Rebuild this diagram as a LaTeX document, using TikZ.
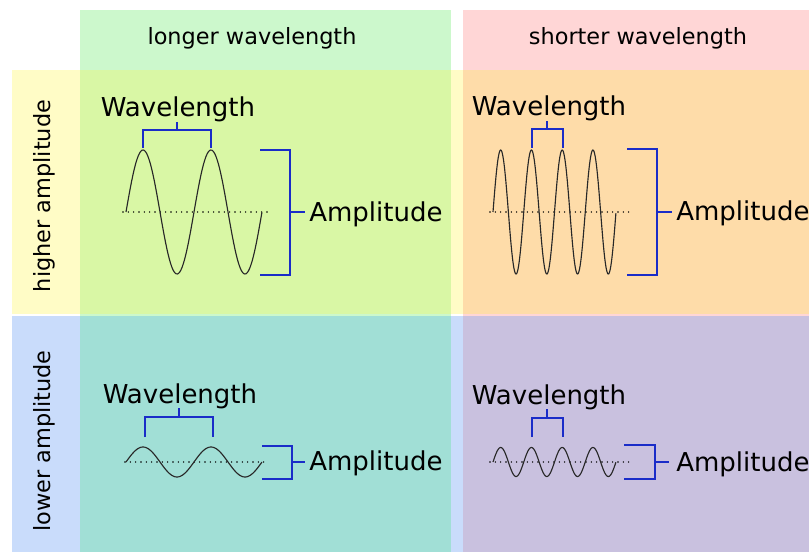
\documentclass[tikz,border=0pt]{standalone}
\usepackage{fontspec}
\setmainfont{DejaVu Sans}
\definecolor{hdrgreen}{RGB}{204,248,204}
\definecolor{hdrpink}{RGB}{255,214,214}
\definecolor{rowyellow}{RGB}{255,252,198}
\definecolor{rowblue}{RGB}{201,220,251}
\definecolor{gy}{RGB}{217,247,165}
\definecolor{py}{RGB}{254,220,169}
\definecolor{gb}{RGB}{161,223,214}
\definecolor{pb}{RGB}{201,193,223}
\definecolor{brk}{RGB}{26,44,200}
\definecolor{wave}{RGB}{40,40,40}
\tikzset{
  bracket/.style={draw=brk, line width=1.5pt, line cap=butt, line join=miter},
  wavy/.style={draw=wave, line width=0.85pt},
  axisline/.style={draw=black, line width=1.2pt, line cap=round, dash pattern=on 0pt off 4pt},
  bigtext/.style={font=\fontsize{19.5}{22}\selectfont, inner sep=0pt, text=black},
  hdrtext/.style={font=\fontsize{16.8}{20}\selectfont, inner sep=0pt, text=black},
}
\begin{document}
\begin{tikzpicture}[x=0.75pt, y=-0.75pt]
\useasboundingbox (0,0) rectangle (809,552);
\fill[white] (0,0) rectangle (809,552);
% columns
\fill[hdrgreen] (80,10) rectangle (451,552);
\fill[hdrpink] (463,10) rectangle (809,552);
% rows (alone)
\fill[rowyellow] (12,70) rectangle (80,314);
\fill[rowyellow] (451,70) rectangle (463,314);
\fill[rowblue] (12,316) rectangle (80,552);
\fill[rowblue] (451,316) rectangle (463,552);
% overlaps
\fill[gy] (80,70) rectangle (451,314);
\fill[py] (463,70) rectangle (809,314);
\fill[gb] (80,316) rectangle (451,552);
\fill[pb] (463,316) rectangle (809,552);

% headers
\node[hdrtext, anchor=base] (hlong) at (252,45) {longer wavelength};
\node[hdrtext, anchor=base] (hshort) at (638,45) {shorter wavelength};
\node[hdrtext, anchor=base, rotate=90] (hhigh) at (50,196) {higher amplitude};
\node[hdrtext, anchor=base, rotate=90] (hlow) at (50,441) {lower amplitude};

% ---------- top-left ----------
\draw[axisline] (123,212) -- (267,212);
\draw[wavy] plot[domain=0:2, samples=120, smooth] ({126+68*\x},{212-62*sin(360*\x)});
\node[bigtext, anchor=base] (wlA) at (178,117) {Wavelength};
\coordinate (wlAt) at (177,122);
\draw[bracket] (143,148) -- (143,130) -- (211,130) -- (211,148);
\draw[bracket] (177,130) -- (wlAt);
\node[bigtext, anchor=base west] (ampA) at (309,221) {Amplitude};
\coordinate (ampAt) at (305,212);
\draw[bracket] (260,150) -- (290,150) -- (290,275) -- (260,275);
\draw[bracket] (290,212) -- (ampAt);

% ---------- top-right ----------
\draw[axisline] (490,212) -- (633,212);
\draw[wavy] plot[domain=0:4, samples=240, smooth] ({493+30.75*\x},{212-62*sin(360*\x)});
\node[bigtext, anchor=base] (wlB) at (549,116) {Wavelength};
\coordinate (wlBt) at (547,121);
\draw[bracket] (532,148) -- (532,129) -- (563,129) -- (563,148);
\draw[bracket] (547,129) -- (wlBt);
\node[bigtext, anchor=base west] (ampB) at (676,220) {Amplitude};
\coordinate (ampBt) at (672,212);
\draw[bracket] (627,149) -- (657,149) -- (657,275) -- (627,275);
\draw[bracket] (657,212) -- (ampBt);

% ---------- bottom-left ----------
\draw[axisline] (125,462) -- (267,462);
\draw[wavy] plot[domain=0:2, samples=120, smooth] ({126+68*\x},{462-15*sin(360*\x)});
\node[bigtext, anchor=base] (wlC) at (180,403) {Wavelength};
\coordinate (wlCt) at (179,408);
\draw[bracket] (145,437) -- (145,417) -- (213,417) -- (213,437);
\draw[bracket] (179,417) -- (wlCt);
\node[bigtext, anchor=base west] (ampC) at (309,470) {Amplitude};
\coordinate (ampCt) at (305,462);
\draw[bracket] (262,446) -- (292,446) -- (292,479) -- (262,479);
\draw[bracket] (292,462) -- (ampCt);

% ---------- bottom-right ----------
\draw[axisline] (490,462) -- (633,462);
\draw[wavy] plot[domain=0:4, samples=240, smooth] ({493+30.75*\x},{462-14.5*sin(360*\x)});
\node[bigtext, anchor=base] (wlD) at (549,404) {Wavelength};
\coordinate (wlDt) at (547,409);
\draw[bracket] (532,437) -- (532,418) -- (563,418) -- (563,437);
\draw[bracket] (547,418) -- (wlDt);
\node[bigtext, anchor=base west] (ampD) at (676,471) {Amplitude};
\coordinate (ampDt) at (669,462);
\draw[bracket] (624,445) -- (655,445) -- (655,479) -- (624,479);
\draw[bracket] (655,462) -- (ampDt);
\end{tikzpicture}
\end{document}
